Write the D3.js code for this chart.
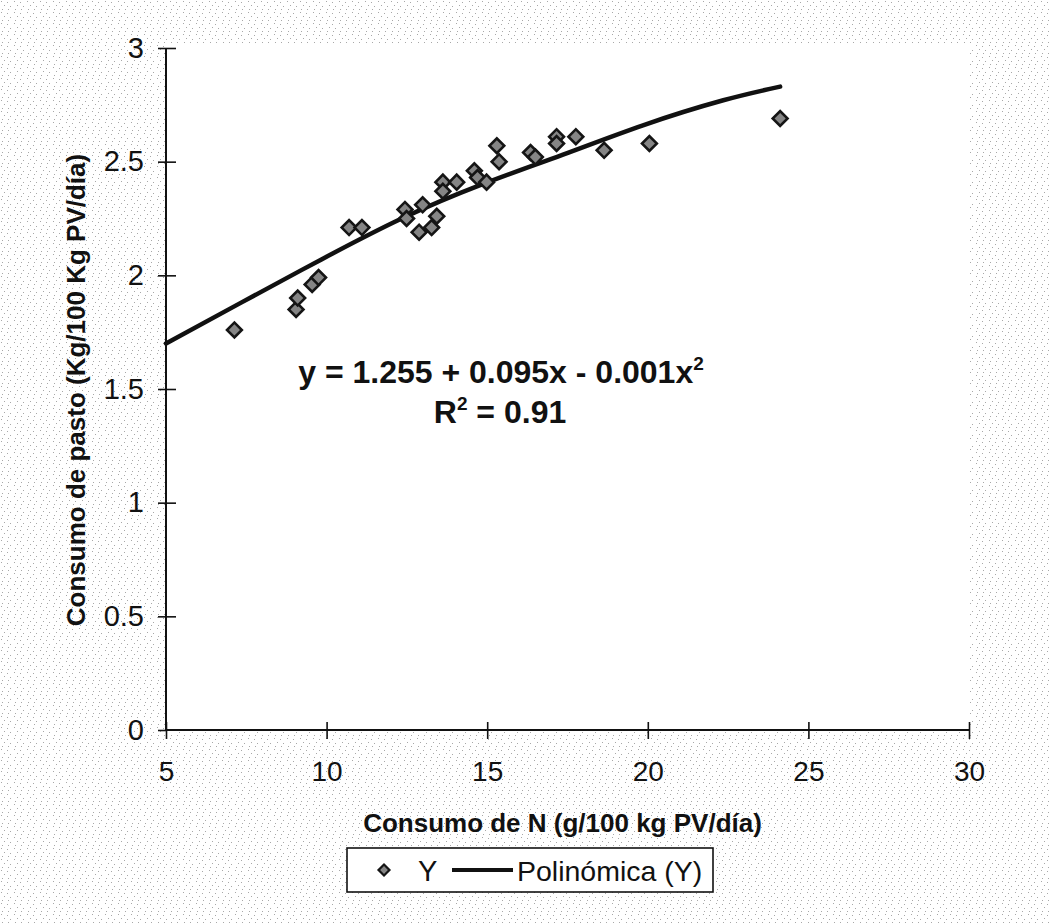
<!DOCTYPE html>
<html>
<head>
<meta charset="utf-8">
<script src="https://cdn.jsdelivr.net/npm/d3@7"></script>
<style>
  html, body { margin: 0; padding: 0; background: #fff; }
  svg { display: block; }
  text { font-family: "Liberation Sans", Arial, sans-serif; fill: #111; }
</style>
</head>
<body>
<svg id="chart" width="1050" height="923"></svg>
<script>
// ---- data ----
const consumoN = [7.13, 9.05, 9.10, 9.55, 9.75, 10.70, 11.10, 12.44, 12.49, 12.99, 12.88, 13.27, 13.43, 13.62, 13.62, 14.05, 14.60, 14.70, 14.98, 15.30, 15.37, 16.35, 16.50, 17.16, 17.16, 17.76, 18.64, 20.05, 24.12];
const consumoPasto = [1.76, 1.85, 1.90, 1.96, 1.99, 2.21, 2.21, 2.29, 2.25, 2.31, 2.19, 2.21, 2.26, 2.41, 2.37, 2.41, 2.46, 2.43, 2.41, 2.57, 2.50, 2.54, 2.52, 2.61, 2.58, 2.61, 2.55, 2.58, 2.69];
// polynomial trend line
const trendX = [5, 7.34, 9.84, 12.34, 14.84, 17.34, 19.85, 22.35, 24.12];
const trendY = [1.70, 1.88, 2.07, 2.25, 2.40, 2.53, 2.66, 2.77, 2.83];
const xTicks = [5, 10, 15, 20, 25, 30];
const yTicks = [0, 0.5, 1, 1.5, 2, 2.5, 3];
const xTitle = "Consumo de N (g/100 kg PV/día)";
const yTitle = "Consumo de pasto (Kg/100 Kg PV/día)";
const legendLabels = ["Y", "Polinómica (Y)"];

const svg = d3.select("#chart");

// scanned paper texture
const defs = svg.append("defs");
const pat = defs.append("pattern").attr("id", "tex").attr("patternUnits", "userSpaceOnUse")
  .attr("width", 13).attr("height", 11);
pat.append("rect").attr("width", 13).attr("height", 11).attr("fill", "#ffffff");
[[1,1],[7,2],[4,5],[10,6],[2,9],[8,9]].forEach(p => pat.append("rect").attr("x", p[0]).attr("y", p[1]).attr("width", 1).attr("height", 1).attr("fill", "#a8a8a8"));
svg.append("rect").attr("width", 1050).attr("height", 923).attr("fill", "url(#tex)");

const x = d3.scaleLinear().domain([5, 30]).range([166, 969]);
const y = d3.scaleLinear().domain([0, 3]).range([730, 48]);

// white plot area
svg.append("rect").attr("x", x(5)).attr("y", y(3) - 3)
  .attr("width", x(30) - x(5) + 1).attr("height", y(0) - y(3) + 5).attr("fill", "#fff");

const fontStack = "'Liberation Sans', Arial, sans-serif";

// axes
const gy = svg.append("g").attr("transform", `translate(${x(5)},0)`)
  .call(d3.axisLeft(y).tickValues(yTicks).tickSize(8).tickPadding(14).tickFormat(d3.format("")));
gy.select(".domain").attr("stroke", "#111").attr("stroke-width", 2).attr("d", `M0,${y(3)}V${y(0)}`);
gy.selectAll(".tick line").attr("x1", d => d === 0 ? 0 : 10).attr("stroke", "#111").attr("stroke-width", 1.6);
gy.selectAll(".tick text").attr("font-size", 29).attr("fill", "#111").style("font-family", fontStack);

const gx = svg.append("g").attr("transform", `translate(0,${y(0)})`)
  .call(d3.axisBottom(x).tickValues(xTicks).tickSize(9).tickPadding(22));
gx.select(".domain").attr("stroke", "#111").attr("stroke-width", 2).attr("d", `M${x(5)},0H${x(30)}`);
gx.selectAll(".tick line").attr("y1", -8).attr("stroke", "#111").attr("stroke-width", 1.6);
gx.selectAll(".tick text").attr("font-size", 28).attr("fill", "#111").style("font-family", fontStack);

// axis titles
svg.append("text").attr("x", (x(5) + x(30)) / 2 - 5).attr("y", 832)
  .attr("text-anchor", "middle").attr("font-size", 26).attr("font-weight", "bold").text(xTitle);
svg.append("text").attr("transform", `translate(85,${(y(0) + y(3)) / 2 + 1}) rotate(-90)`)
  .attr("text-anchor", "middle").attr("font-size", 26).attr("font-weight", "bold").text(yTitle);

// trend line
const pts = trendX.map((v, i) => [v, trendY[i]]);
svg.append("path").datum(pts)
  .attr("d", d3.line().x(d => x(d[0])).y(d => y(d[1])).curve(d3.curveNatural))
  .attr("fill", "none").attr("stroke", "#111").attr("stroke-width", 4.5).attr("stroke-linecap", "round");

// markers
const diamond = d3.symbol().type(d3.symbolSquare).size(110);
svg.append("g").selectAll("path").data(consumoN.map((v, i) => [v, consumoPasto[i]])).join("path")
  .attr("d", diamond)
  .attr("transform", d => `translate(${x(d[0])},${y(d[1])}) rotate(45)`)
  .attr("fill", "#858585").attr("stroke", "#151515").attr("stroke-width", 2.6);

// equation
const eq = svg.append("text").attr("x", 501).attr("y", 383).attr("text-anchor", "middle")
  .attr("font-size", 32).attr("font-weight", "bold");
eq.append("tspan").text("y = 1.255 + 0.095x - 0.001x");
eq.append("tspan").attr("font-size", 19).attr("dy", -13).text("2");
const r2 = svg.append("text").attr("x", 500).attr("y", 423).attr("text-anchor", "middle")
  .attr("font-size", 32).attr("font-weight", "bold");
r2.append("tspan").text("R");
r2.append("tspan").attr("font-size", 19).attr("dy", -13).text("2");
r2.append("tspan").attr("dy", 13).text(" = 0.91");

// legend
const lg = svg.append("g");
lg.append("rect").attr("x", 347).attr("y", 848).attr("width", 366).attr("height", 44)
  .attr("fill", "#fff").attr("stroke", "#111").attr("stroke-width", 1.6);
lg.append("path").attr("d", d3.symbol().type(d3.symbolSquare).size(60))
  .attr("transform", "translate(384,870) rotate(45)")
  .attr("fill", "#858585").attr("stroke", "#151515").attr("stroke-width", 2.2);
lg.append("text").attr("x", 418).attr("y", 881).attr("font-size", 29).text(legendLabels[0]);
lg.append("line").attr("x1", 452).attr("x2", 513).attr("y1", 870).attr("y2", 870)
  .attr("stroke", "#111").attr("stroke-width", 4);
lg.append("text").attr("x", 517).attr("y", 881).attr("font-size", 28.5).text(legendLabels[1]);
</script>
</body>
</html>
